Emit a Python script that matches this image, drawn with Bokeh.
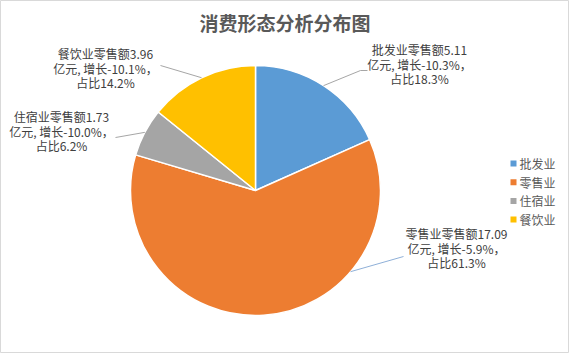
import math
from bokeh.plotting import figure
from bokeh.models import Range1d, ColumnDataSource
from bokeh.core.properties import value
from bokeh.embed import file_html
from bokeh.resources import INLINE

# ---- data ----
categories = ["批发业", "零售业", "住宿业", "餐饮业"]
sales = [5.11, 17.09, 1.73, 3.96]          # 亿元
growth = [-10.3, -5.9, -10.0, -10.1]       # %
colors = ["#5B9BD5", "#ED7D31", "#A5A5A5", "#FFC000"]
title_text = "消费形态分析分布图"

# ---- layout (pixels, y measured from top) ----
W, H = 569, 353
CX, CY, R = 255, 190, 125
FONT = "Noto Sans CJK SC"
label_anchor = [(419, 49), (456, 233), (61, 116), (105, 53)]   # centre x, first-line y
leader_end = [(360, 70), (403, 256), (115, 137), (160, 65)]
leader_tail = [(367, 70), None, None, None]
leader_angle_override = [None, 130.5, None, None]   # degrees clockwise from top
leader_colors = ["#A6A6A6", "#8FB0D8", "#A6A6A6", "#A6A6A6"]
legend_x, legend_y0, legend_dy = 513, 163, 18.7
LINE_H = 14.5


def Y(ypx):
    return H - ypx


p = figure(width=W, height=H, x_range=Range1d(0, W), y_range=Range1d(0, H),
           output_backend="svg", toolbar_location=None, min_border=0)
p.axis.visible = False
p.grid.visible = False
p.outline_line_color = "#D9D9D9"
p.outline_line_width = 1
p.background_fill_color = "white"
p.border_fill_color = "white"

total = sum(sales)
fracs = [v / total for v in sales]
starts, ends, mids = [], [], []
cum = 0.0
for f in fracs:
    starts.append(math.pi / 2 - 2 * math.pi * cum)
    mids.append(cum + f / 2)
    cum += f
    ends.append(math.pi / 2 - 2 * math.pi * cum)

src = ColumnDataSource(dict(x=[CX] * 4, y=[Y(CY)] * 4, start=starts, end=ends,
                            color=colors, cat=categories))
p.wedge(x="x", y="y", radius=R, start_angle="start", end_angle="end",
        direction="clock", fill_color="color", line_color="white",
        line_width=1.5, source=src)

# leader lines
for i in range(4):
    ang = leader_angle_override[i] if leader_angle_override[i] is not None else mids[i] * 360
    a = math.radians(ang)
    sx, sy = CX + R * math.sin(a), CY - R * math.cos(a)
    xs = [sx, leader_end[i][0]]
    ys = [Y(sy), Y(leader_end[i][1])]
    if leader_tail[i]:
        xs.append(leader_tail[i][0])
        ys.append(Y(leader_tail[i][1]))
    p.line(xs, ys, line_color=leader_colors[i], line_width=1)

# data labels
for i in range(4):
    pct = round(fracs[i] * 100, 1)
    lines = [f"{categories[i]}零售额{sales[i]:.2f}",
             f"亿元, 增长{growth[i]:.1f}%，",
             f"占比{pct:.1f}%"]
    ax, ay = label_anchor[i]
    p.text(x=[ax] * 3, y=[Y(ay + k * LINE_H) for k in range(3)], text=lines,
           text_align="center", text_baseline="middle",
           text_font=value(FONT), text_font_size="12px", text_color="#404040")

# legend
ly = [Y(legend_y0 + k * legend_dy) for k in range(4)]
p.scatter(x=[legend_x] * 4, y=ly, marker="square", size=6, fill_color=colors,
          line_color=None)
p.text(x=[legend_x + 6] * 4, y=ly, text=categories, text_align="left",
       text_baseline="middle", text_font=value(FONT), text_font_size="12px",
       text_color="#595959")

# title
p.text(x=[W / 2], y=[Y(22)], text=[title_text], text_align="center",
       text_baseline="middle", text_font=value(FONT), text_font_size="19px",
       text_font_style="bold", text_color="#595959")

open("out.html", "w").write(file_html(p, INLINE))
